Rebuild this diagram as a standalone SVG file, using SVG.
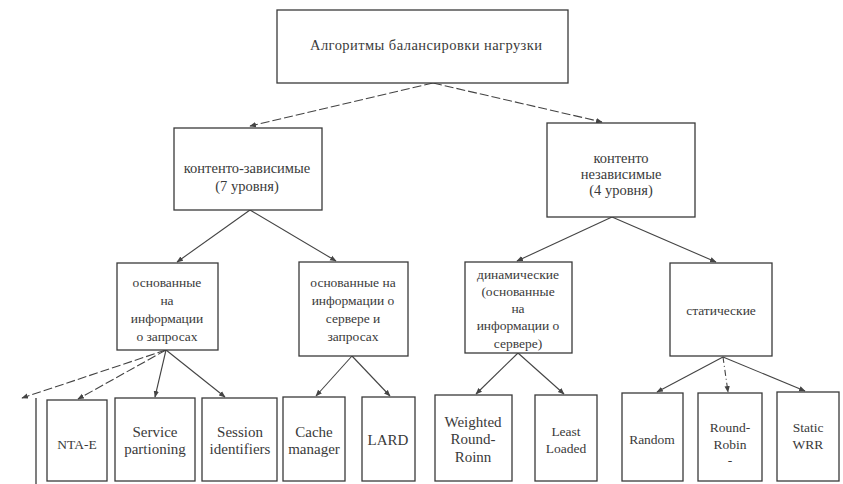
<svg xmlns="http://www.w3.org/2000/svg" width="843" height="484" viewBox="0 0 843 484" font-family="'Liberation Serif', 'DejaVu Serif', serif">
<defs>
<style>
.box{fill:#fff;stroke:#3a3a3a;stroke-width:1.3}
text{font-family:'Liberation Serif','DejaVu Serif',serif;fill:#3a3a3a;text-anchor:middle}
.t{font-size:13.5px}
.tb{font-size:14.5px}
.tl{font-size:15px}
.c{stroke:#444;stroke-width:1.1;fill:none;marker-end:url(#ah)}
.d{stroke-dasharray:9 3}
.dd{stroke-dasharray:6 3 1 3}
</style>
<marker id="ah" viewBox="0 0 10 10" refX="9" refY="5" markerWidth="6" markerHeight="6" orient="auto-start-reverse">
<path d="M0,1 L10,5 L0,9 z" fill="#444"/>
</marker>
</defs>
<rect width="843" height="484" fill="#fff"/>

<g id="connectors">
<line class="c d" x1="433" y1="83" x2="250" y2="126"/>
<line class="c d" x1="433" y1="83" x2="602" y2="122"/>
<line class="c" x1="250" y1="210" x2="177" y2="262"/>
<line class="c" x1="250" y1="210" x2="336" y2="261"/>
<line class="c" x1="612" y1="217" x2="517" y2="261"/>
<line class="c" x1="612" y1="217" x2="716" y2="262"/>
<line class="c d" x1="166" y1="350" x2="78" y2="399"/>
<line class="c d" x1="166" y1="350" x2="22" y2="398"/>
<line class="c" x1="166" y1="350" x2="155" y2="397"/>
<line class="c" x1="166" y1="350" x2="225" y2="397"/>
<line class="c" x1="352" y1="356" x2="316" y2="396"/>
<line class="c" x1="352" y1="356" x2="390" y2="396"/>
<line class="c" x1="518" y1="353" x2="476" y2="394"/>
<line class="c" x1="518" y1="353" x2="564" y2="394"/>
<line class="c" x1="723" y1="357" x2="657" y2="392"/>
<line class="c dd" x1="723" y1="357" x2="728" y2="392"/>
<line class="c" x1="723" y1="357" x2="805" y2="391"/>
</g>

<g id="root">
<rect class="box" x="277" y="10" width="291" height="73"/>
<text class="tb" x="426" y="50" font-size="15" textLength="232">Алгоритмы балансировки нагрузки</text>
</g>

<g id="content-dependent">
<rect class="box" x="174" y="128" width="148" height="82"/>
<text class="tb" x="247" y="173">контенто-зависимые</text>
<text class="tb" x="247" y="191">(7 уровня)</text>
</g>

<g id="content-independent">
<rect class="box" x="547" y="123" width="148" height="94"/>
<text class="tb" x="621" y="163">контенто</text>
<text class="tb" x="621" y="179">независимые</text>
<text class="tb" x="621" y="195">(4 уровня)</text>
</g>

<g id="request-based">
<rect class="box" x="117" y="263" width="101" height="87"/>
<text class="t" x="167" y="287">основанные</text>
<text class="t" x="167" y="305">на</text>
<text class="t" x="167" y="323">информации</text>
<text class="t" x="167" y="341">о запросах</text>
</g>

<g id="server-request-based">
<rect class="box" x="299" y="262" width="109" height="94"/>
<text class="t" x="353" y="287">основанные на</text>
<text class="t" x="353" y="305">информации о</text>
<text class="t" x="353" y="323">сервере и</text>
<text class="t" x="353" y="341">запросах</text>
</g>

<g id="dynamic">
<rect class="box" x="465" y="262" width="107" height="91"/>
<text class="t" x="518" y="279">динамические</text>
<text class="t" x="518" y="296">(основанные</text>
<text class="t" x="518" y="313">на</text>
<text class="t" x="518" y="330">информации о</text>
<text class="t" x="518" y="348">сервере)</text>
</g>

<g id="static">
<rect class="box" x="670" y="263" width="102" height="93"/>
<text class="t" x="721" y="315">статические</text>
</g>

<g id="partial-box">
<line x1="36" y1="398" x2="36" y2="484" stroke="#3a3a3a" stroke-width="1.3"/>
</g>

<g id="nta-e">
<rect class="box" x="47" y="400" width="60" height="81"/>
<text class="t" x="77" y="449">NTA-E</text>
</g>

<g id="service">
<rect class="box" x="115" y="398" width="80" height="83"/>
<text class="tl" x="155" y="437">Service</text>
<text class="tl" x="155" y="454">partioning</text>
</g>

<g id="session">
<rect class="box" x="202" y="398" width="75" height="83"/>
<text class="tl" x="240" y="437">Session</text>
<text class="tl" x="240" y="454">identifiers</text>
</g>

<g id="cache">
<rect class="box" x="283" y="397" width="62" height="84"/>
<text class="tl" x="314" y="437">Cache</text>
<text class="tl" x="314" y="454">manager</text>
</g>

<g id="lard">
<rect class="box" x="362" y="397" width="53" height="84"/>
<text class="tl" x="388" y="445">LARD</text>
</g>

<g id="weighted-rr">
<rect class="box" x="435" y="395" width="77" height="86"/>
<text class="tl" x="473" y="427">Weighted</text>
<text class="tl" x="473" y="444">Round-</text>
<text class="tl" x="473" y="462">Roinn</text>
</g>

<g id="least-loaded">
<rect class="box" x="535" y="395" width="62" height="86"/>
<text class="t" x="566" y="436">Least</text>
<text class="t" x="566" y="453">Loaded</text>
</g>

<g id="random">
<rect class="box" x="622" y="393" width="61" height="88"/>
<text class="t" x="652" y="444">Random</text>
</g>

<g id="round-robin">
<rect class="box" x="698" y="393" width="64" height="88"/>
<text class="t" x="730" y="432">Round-</text>
<text class="t" x="730" y="449">Robin</text>
<text class="t" x="730" y="465">-</text>
</g>

<g id="static-wrr">
<rect class="box" x="777" y="392" width="62" height="89"/>
<text class="t" x="808" y="432">Static</text>
<text class="t" x="808" y="449">WRR</text>
</g>
</svg>
